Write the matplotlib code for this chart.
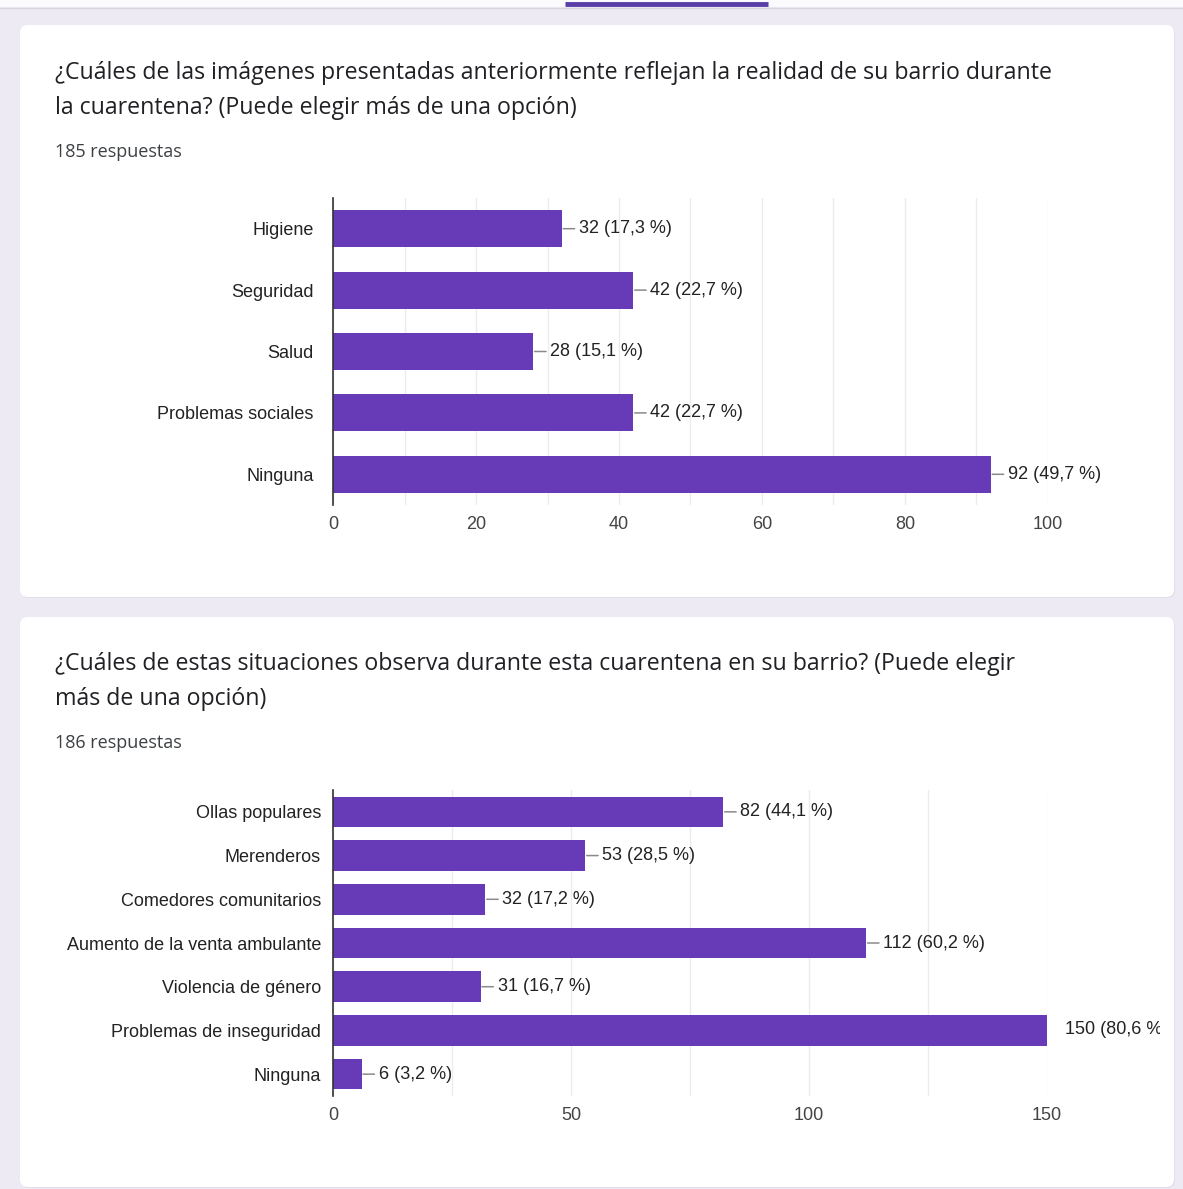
import matplotlib
matplotlib.use('Agg')
import matplotlib.pyplot as plt
import numpy as np
from matplotlib.patches import FancyBboxPatch, Rectangle
from matplotlib.transforms import Bbox, TransformedBbox

# ---------------- data ----------------
q1_title = ["¿Cuáles de las imágenes presentadas anteriormente reflejan la realidad de su barrio durante",
            "la cuarentena? (Puede elegir más de una opción)"]
q1_respondents = 185
q1_categories = ['Higiene', 'Seguridad', 'Salud', 'Problemas sociales', 'Ninguna']
q1_counts = [32, 42, 28, 42, 92]
q1_ticks = [0, 20, 40, 60, 80, 100]

q2_title = ["¿Cuáles de estas situaciones observa durante esta cuarentena en su barrio? (Puede elegir",
            "más de una opción)"]
q2_respondents = 186
q2_categories = ['Ollas populares', 'Merenderos', 'Comedores comunitarios',
                 'Aumento de la venta ambulante', 'Violencia de género',
                 'Problemas de inseguridad', 'Ninguna']
q2_counts = [82, 53, 32, 112, 31, 150, 6]
q2_ticks = [0, 50, 100, 150]

# ---------------- layout ----------------
W, H = 1183, 1189
fig = plt.figure(figsize=(W / 100, H / 100), dpi=100)
fig.patch.set_facecolor('#edeaf4')

bg = fig.add_axes([0, 0, 1, 1])
bg.set_xlim(0, W)
bg.set_ylim(H, 0)
bg.axis('off')

# top bar
bg.add_patch(Rectangle((0, 0), W, 7, facecolor='#fbfbfd', edgecolor='none'))
bg.plot([0, W], [7.5, 7.5], color='#d9d6e0', lw=1)
bg.plot([565, 768], [4, 4], color='#5a3ea8', lw=3.5, solid_capstyle='butt')

# cards
for (y0, y1) in [(25, 597), (617, 1187)]:
    bg.add_patch(FancyBboxPatch((21, y0 + 1), 1154, y1 - y0, boxstyle='round,pad=0,rounding_size=8',
                                facecolor='#e2dfea', edgecolor='none'))
    bg.add_patch(FancyBboxPatch((20, y0), 1154, y1 - y0, boxstyle='round,pad=0,rounding_size=8',
                                facecolor='white', edgecolor='none'))

TITLE_FONT = ['Open Sans', 'DejaVu Sans']
LABEL_FONT = ['Liberation Sans', 'DejaVu Sans']


def card_header(lines, y_first, y_resp, respondents):
    for k, line in enumerate(lines):
        bg.text(55, y_first + 35 * k, line, fontsize=16.7, family=TITLE_FONT, color='#202124',
                va='center', ha='left')
    bg.text(55, y_resp, f"{respondents} respuestas", fontsize=13, family=TITLE_FONT,
            color='#3c4043', va='center', ha='left')


card_header(q1_title, 73, 152, q1_respondents)
card_header(q2_title, 664, 743, q2_respondents)

BAR_COLOR = '#673ab7'
clip_bbox = TransformedBbox(Bbox([[0, 0], [1160 / W, 1]]), fig.transFigure)


def make_chart(left, right, top, bottom, cats, counts, total, ticks, minor_step, bar_h, ypad):
    ax = fig.add_axes([left / W, 1 - bottom / H, (right - left) / W, (bottom - top) / H])
    n = len(cats)
    y = np.arange(n)
    ax.barh(y, counts, height=bar_h, color=BAR_COLOR, zorder=3)
    ax.set_xlim(ticks[0], ticks[-1])
    ax.set_ylim(n - 0.5, -0.5)
    ax.set_xticks(ticks)
    ax.set_xticks(np.arange(ticks[0], ticks[-1] + 0.1, minor_step), minor=True)
    ax.set_xticklabels([str(t) for t in ticks], family=LABEL_FONT, fontsize=13, color='#444444')
    ax.set_yticks(y)
    ax.set_yticklabels(cats, family=LABEL_FONT, fontsize=13, color='#222222')
    ax.tick_params(axis='x', which='both', length=0, pad=8)
    ax.tick_params(axis='y', length=0, pad=ypad)
    ax.grid(which='both', axis='x', color='#ececec', lw=1, zorder=0)
    for s in ['top', 'right', 'bottom']:
        ax.spines[s].set_visible(False)
    ax.spines['left'].set_color('#333333')
    ax.spines['left'].set_linewidth(1.2)
    ax.spines['left'].set_zorder(4)
    for i, v in enumerate(counts):
        pct = f"{v / total * 100:.1f}".replace('.', ',')
        lab = f"{v} ({pct} %)"
        if v >= ticks[-1]:
            t = ax.annotate(lab, xy=(v, i), xytext=(18, 1), textcoords='offset pixels',
                            ha='left', va='center', family=LABEL_FONT, fontsize=13,
                            color='#222222', annotation_clip=False)
        else:
            t = ax.annotate(lab, xy=(v, i), xytext=(17, 0), textcoords='offset pixels',
                            ha='left', va='center', family=LABEL_FONT, fontsize=13,
                            color='#222222', annotation_clip=False,
                            arrowprops=dict(arrowstyle='-', color='#8a8a8a', lw=1.1,
                                            shrinkA=1, shrinkB=1))
        t.set_clip_box(clip_bbox)
        t.set_clip_on(True)
    return ax


make_chart(333, 1048, 198, 505, q1_categories, q1_counts, q1_respondents, q1_ticks, 10, 0.6, 14)
make_chart(333, 1047, 790, 1096, q2_categories, q2_counts, q2_respondents, q2_ticks, 25, 0.7, 8.6)

fig.savefig('out.png', dpi=100, facecolor=fig.get_facecolor())
